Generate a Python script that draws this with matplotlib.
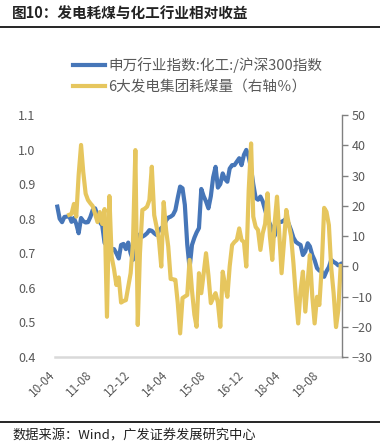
import numpy as np
import pandas as pd
import matplotlib
matplotlib.use('Agg')
import matplotlib.pyplot as plt
from matplotlib.lines import Line2D

plt.rcParams['font.family'] = ['Noto Sans CJK SC', 'DejaVu Sans']

# 申万化工/沪深300 relative index, monthly from 2010-04
rel_start = '2010-04'
rel_vals = [0.835, 0.80, 0.79, 0.805, 0.806, 0.808, 0.791, 0.802, 0.785, 0.758,
            0.802, 0.793, 0.789, 0.790, 0.805, 0.825, 0.830, 0.81, 0.79, 0.78,
            0.73, 0.722, 0.728, 0.712, 0.712, 0.70, 0.685, 0.724, 0.727, 0.712,
            0.731, 0.70, 0.681, 0.700, 0.750, 0.755, 0.748, 0.752, 0.758, 0.767,
            0.765, 0.758, 0.753, 0.765, 0.773, 0.778, 0.795, 0.803, 0.806, 0.811,
            0.825, 0.86, 0.893, 0.888, 0.840, 0.725, 0.657, 0.724, 0.745, 0.760,
            0.773, 0.886, 0.865, 0.850, 0.830, 0.865, 0.920, 0.950, 0.890, 0.900,
            0.931, 0.915, 0.907, 0.945, 0.955, 0.955, 0.965, 0.975, 0.955, 0.985,
            0.999, 0.979, 0.945, 0.900, 0.860, 0.855, 0.864, 0.850, 0.825, 0.801,
            0.785, 0.772, 0.750, 0.787, 0.790, 0.791, 0.795, 0.801, 0.785, 0.767,
            0.745, 0.733, 0.728, 0.724, 0.695, 0.705, 0.729, 0.720, 0.695, 0.680,
            0.657, 0.650, 0.647, 0.632, 0.648, 0.660, 0.681, 0.675, 0.671, 0.665,
            0.669]

# 6大发电集团耗煤量 yoy (%), monthly from 2010-09
coal_start = '2010-09'
coal_vals = [17.0, 17.3, 20.6, 16.4, 30.2, 40.1, 31.2, 24.0, 21.9, 20.8,
             19.9, 17.3, 14.6, 17.9, 14.0, 18.9, -16.7, 23.2, 3.2, -1.0,
             -6.2, -3.7, -12.0, -11.5, -11.2, -6.8, -2.3, 7.6, 38.4, -19.4,
             4.3, 18.6, 19.0, 19.7, 21.9, 32.9, 16.9, 13.1, 8.7, -0.1,
             21.2, 12.0, 6.5, -4.2, -4.3, -4.5, -12.0, -22.2, -10.5, -10.0,
             -9.5, 2.1, -8.0, -16.0, -20.0, -2.3, -8.9, -2.3, 4.3, -3.0,
             -12.2, -10.5, -8.9, -12.0, -20.0, -1.8, -6.0, -10.1, 0.0, 7.0,
             8.0, 8.7, 12.5, 8.7, 8.0, -0.1, 25.0, 40.6, 16.4, 13.0,
             12.0, 5.4, 10.9, 14.0, 24.1, 10.0, 2.1, 14.0, 23.0, 10.0,
             -2.3, 8.0, 18.6, 14.0, 10.0, 1.0, -10.0, -18.9, -8.0, -1.8,
             -15.0, -5.0, 3.7, -10.0, -18.9, -10.1, -12.8, -0.1, 19.3, 18.0,
             13.6, -0.5, -8.9, -20.1, -14.5, 0.1]

rel_label = '申万行业指数:化工:/沪深300指数'
coal_label = '6大发电集团耗煤量（右轴％）'
title = '图10：发电耗煤与化工行业相对收益'
source = '数据来源：Wind，广发证券发展研究中心'

rel_dates = pd.date_range(rel_start, periods=len(rel_vals), freq='MS')
coal_dates = pd.date_range(coal_start, periods=len(coal_vals), freq='MS')

blue = '#4676B8'
yellow = '#E6C65E'
grey = '#595959'
lw = 3.0

fig = plt.figure(figsize=(3.8, 4.48), dpi=100)
ax = fig.add_axes([55 / 380, 1 - 357 / 448, 287 / 380, 242 / 448])
ax2 = ax.twinx()

ax.plot(rel_dates, rel_vals, color=blue, lw=lw, solid_joinstyle='round')
ax2.plot(coal_dates, coal_vals, color=yellow, lw=lw, solid_joinstyle='round')

ax.set_ylim(0.4, 1.1)
ax.set_yticks(np.arange(0.4, 1.11, 0.1))
ax.set_yticklabels(['%.1f' % v for v in np.arange(0.4, 1.11, 0.1)])
ax2.set_ylim(-30, 50)
ax2.set_yticks(range(-30, 51, 10))

ax.set_xlim(rel_dates[0] - pd.Timedelta(days=30), rel_dates[-1] + pd.Timedelta(days=17))
xt = rel_dates[::16][:8]
ax.set_xticks(xt)
ax.set_xticklabels([d.strftime('%y-%m') for d in xt], rotation=45, ha='right')

for a in (ax, ax2):
    for s in ['top', 'left', 'right', 'bottom']:
        a.spines[s].set_visible(False)
ax2.spines['right'].set_visible(True)
ax2.spines['right'].set_color('#808080')
ax2.spines['right'].set_linewidth(1.0)
ax.spines['bottom'].set_visible(True)
ax.spines['bottom'].set_color('#D9D9D9')
ax.spines['bottom'].set_linewidth(1.8)

ax.tick_params(axis='y', length=0, pad=14, labelsize=9, labelcolor=grey)
ax.tick_params(axis='x', length=0, pad=8, labelsize=8.5, labelcolor=grey)
ax2.tick_params(axis='y', length=4, width=1, color='#808080', pad=3,
                labelsize=9, labelcolor=grey)

handles = [Line2D([], [], color=blue, lw=lw), Line2D([], [], color=yellow, lw=lw)]
fig.legend(handles, [rel_label, coal_label], loc='upper left',
           bbox_to_anchor=(66 / 380, 1 - 50 / 448), frameon=False,
           fontsize=10.5, labelcolor=grey, handlelength=2.2, handletextpad=0.2,
           labelspacing=0.45, borderpad=0)

fig.text(12 / 380, 1 - 14 / 448, title, fontsize=10.5, fontweight='bold',
         va='center', ha='left', color='#222222')
fig.add_artist(Line2D([0, 1], [1 - 27 / 448] * 2, color='black', lw=1.2))
fig.add_artist(Line2D([0, 1], [1 - 422 / 448] * 2, color='black', lw=1.2))
fig.text(12 / 380, 1 - 436 / 448, source, fontsize=9.5, va='center', ha='left',
         color='#222222')

fig.savefig('out.png', dpi=100)
